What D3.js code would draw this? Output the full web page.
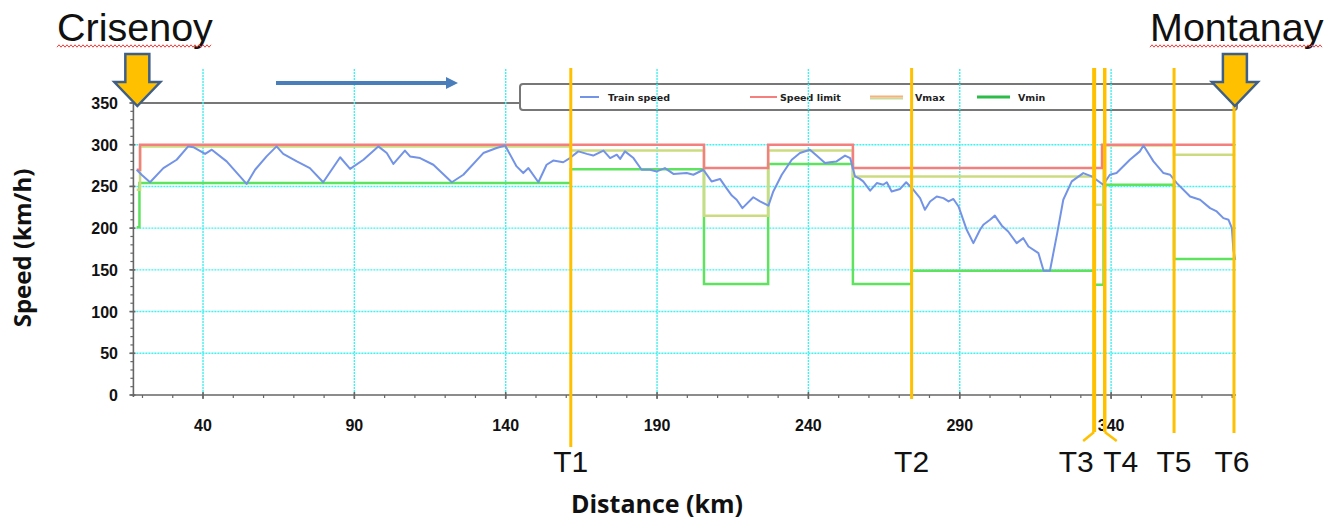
<!DOCTYPE html>
<html><head><meta charset="utf-8">
<script src="https://cdn.jsdelivr.net/npm/d3@7"></script>
<style>body{margin:0;background:#fff} svg{display:block}</style>
</head><body><svg id="c" width="1338" height="519"></svg>
<script>
const kmTicks=[40,90,140,190,240,290,340];
const kmMinor=d3.range(20,381,10);
const speedTicks=[0,50,100,150,200,250,300,350];
const speedMinor=d3.range(0,351,10);
const trainKm=[18.1,19.7,22.5,26.9,31.3,35.1,36.8,40.7,42.9,47.8,54.4,57.2,61.0,64.3,66.5,71.0,75.3,79.7,85.3,88.6,93.0,97.9,100.7,102.9,106.7,108.4,111.7,116.1,122.2,126.0,132.6,137.0,139.8,143.6,145.8,147.5,150.8,153.5,155.7,159.0,161.2,164.0,166.8,168.9,172.3,174.5,176.7,177.8,179.4,182.2,184.9,187.7,189.9,192.6,195.4,199.8,202.0,205.3,208.0,210.8,212.5,214.7,216.3,218.2,221.8,224.0,226.8,228.4,231.2,234.5,237.2,240.5,242.7,245.5,247.1,249.3,252.1,253.8,255.4,257.0,258.1,260.4,262.6,264.7,265.9,267.5,270.3,272.3,274.7,276.9,278.5,280.2,282.4,284.6,286.3,287.9,289.6,292.3,294.5,296.7,297.8,300.0,301.6,303.9,306.0,308.8,311.0,312.7,316.0,317.7,319.8,322.2,324.2,327.0,330.8,333.6,337.4,339.6,341.8,346.2,349.5,350.7,354.0,357.3,359.5,361.7,366.1,369.4,372.7,374.9,377.1,378.8,379.9,380.4,381.0];
const trainSpeed=[270,264,255,272,282,298,297,289,294,280,253,270,286,298,289,280,272,255,285,271,282,298,290,277,293,286,284,276,255,264,290,296,299,274,266,272,255,276,281,279,284,292,289,287,293,284,288,283,292,284,270,270,268,272,265,266,264,270,256,259,250,239,234,224,237,232,227,244,264,282,290,294,287,278,279,280,287,284,262,259,256,245,254,252,255,244,247,255,246,236,222,232,238,236,232,235,226,198,182,198,204,210,215,203,196,182,188,178,170,149,149,194,234,256,266,262,252,264,266,282,292,299,280,266,264,254,238,234,224,220,212,210,200,174,162];
const limitKm=[18.1,19.2,205.5,226.7,254.7,337.0,380.6];
const limitSpeed=[270,300,272,300,272,300,300];
const vmaxKm=[18.1,19.2,161.5,205.5,226.7,254.7,334.4,337.5,360.8,381];
const vmaxSpeed=[246,298,293,215,293,262,228,299,288,288];
const vminKm=[18.1,19.0,161.5,205.5,226.7,254.7,274.1,334.4,337.5,360.8,381];
const vminSpeed=[201,254,270.6,133,277,133,149,132,252,163,163];
const markerKm=[161.5,274.1,334.4,337.9,360.8,380.6];
const markerLabels=["T1","T2","T3","T4","T5","T6"];
const stations=["Crisenoy","Montanay"];
const stationKm=[18.3,380.9];
const legendLabels=["Train speed","Speed limit","Vmax","Vmin"];

const svg=d3.select("#c");
svg.append("rect").attr("width",1338).attr("height",519).attr("fill","#fff");
const x=d3.scaleLinear().domain([17,381]).range([133.4,1235.2]);
const y=d3.scaleLinear().domain([0,350]).range([395,103]);
const C={train:"#7393e6",limit:"#f47f7f",vmax:"#cddb80",vmin:"#5ee35e",grid:"#3df2f2",mark:"#ffc000",axis:"#666"};

// legend box (no fill, drawn under grid)
const lg=svg.append("g");
lg.append("line").attr("x1",x(17)).attr("x2",520).attr("y1",y(350)).attr("y2",y(350)).attr("stroke","#777").attr("stroke-width",2);
lg.append("rect").attr("x",520).attr("y",84).attr("width",717).attr("height",26).attr("rx",3).attr("fill","none").attr("stroke","#777").attr("stroke-width",2);

// grid
const g=svg.append("g");
g.selectAll(".vg").data(kmTicks).join("line").attr("x1",d=>x(d)).attr("x2",d=>x(d)).attr("y1",69).attr("y2",y(0))
 .attr("stroke",C.grid).attr("stroke-width",1.4).attr("stroke-dasharray","2,1");
g.selectAll(".hg").data(speedTicks.filter(d=>d>0&&d<350)).join("line").attr("x1",x(17)).attr("x2",1236).attr("y1",d=>y(d)).attr("y2",d=>y(d))
 .attr("stroke",C.grid).attr("stroke-width",1.4).attr("stroke-dasharray","2,1");

// legend entries
const lx=[580,750,870,977], tx=[608,780,915,1018], lw=[19,27,33,33];
const lcol=[C.train,C.limit,"#f5b27a","#2dbb4a"];
legendLabels.forEach((t,i)=>{
  if(i===2){
    lg.append("line").attr("x1",lx[i]).attr("x2",lx[i]+lw[i]).attr("y1",98.5).attr("y2",98.5).attr("stroke","#c9dca0").attr("stroke-width",2);
    lg.append("line").attr("x1",lx[i]).attr("x2",lx[i]+lw[i]).attr("y1",96.5).attr("y2",96.5).attr("stroke","#f5b27a").attr("stroke-width",2);
  } else {
    lg.append("line").attr("x1",lx[i]).attr("x2",lx[i]+lw[i]).attr("y1",97).attr("y2",97).attr("stroke",lcol[i]).attr("stroke-width",i===3?3:2);
  }
  lg.append("text").attr("x",tx[i]).attr("y",101).text(t).attr("font-family","DejaVu Sans").attr("font-weight","bold").attr("font-size",9.5).attr("fill","#222");
});

// step series
const stepLine=d3.line().x(d=>x(d[0])).y(d=>y(d[1])).curve(d3.curveStepAfter);
const zip=(a,b)=>a.map((v,i)=>[v,b[i]]);
svg.append("path").attr("d",stepLine(zip(vminKm,vminSpeed))).attr("fill","none").attr("stroke",C.vmin).attr("stroke-width",2.5);
svg.append("path").attr("d",stepLine(zip(vmaxKm,vmaxSpeed))).attr("fill","none").attr("stroke",C.vmax).attr("stroke-width",2.5);
svg.append("path").attr("d",stepLine(zip(limitKm,limitSpeed))).attr("fill","none").attr("stroke",C.limit).attr("stroke-width",2.5);
const line=d3.line().x(d=>x(d[0])).y(d=>y(d[1]));
svg.append("path").attr("d",line(zip(trainKm,trainSpeed))).attr("fill","none").attr("stroke",C.train).attr("stroke-width",2).attr("stroke-linejoin","round");

// axes
const ax=svg.append("g").attr("stroke",C.axis);
ax.append("line").attr("x1",x(17)).attr("x2",1236).attr("y1",y(0)).attr("y2",y(0)).attr("stroke-width",1.6);
ax.append("line").attr("x1",x(17)).attr("x2",x(17)).attr("y1",y(350)).attr("y2",y(0)+2).attr("stroke-width",1.6);
ax.selectAll(".xm").data(kmMinor).join("line").attr("x1",d=>x(d)).attr("x2",d=>x(d)).attr("y1",y(0)).attr("y2",y(0)+3).attr("stroke-width",1.2);
ax.selectAll(".xM").data(kmTicks).join("line").attr("x1",d=>x(d)).attr("x2",d=>x(d)).attr("y1",y(0)-3).attr("y2",y(0)+4).attr("stroke-width",1.6);
ax.selectAll(".ym").data(speedMinor).join("line").attr("x1",x(17)-3).attr("x2",x(17)).attr("y1",d=>y(d)).attr("y2",d=>y(d)).attr("stroke-width",1.2);
ax.selectAll(".yM").data(speedTicks).join("line").attr("x1",x(17)-4).attr("x2",x(17)+2).attr("y1",d=>y(d)).attr("y2",d=>y(d)).attr("stroke-width",1.6);
const tf={"font-family":"Liberation Sans","font-weight":"bold","font-size":16,"fill":"#111"};
const applyF=(s,f)=>{Object.entries(f).forEach(([k,v])=>s.attr(k,v));return s;};
applyF(svg.append("g").selectAll("text").data(kmTicks).join("text").attr("x",d=>x(d)).attr("y",431).attr("text-anchor","middle").text(d=>d),tf);
applyF(svg.append("g").selectAll("text").data(speedTicks).join("text").attr("x",118).attr("y",d=>y(d)+6).attr("text-anchor","end").text(d=>d),tf);
svg.append("text").attr("transform","translate(31,248) rotate(-90)").attr("text-anchor","middle").text("Speed (km/h)")
 .attr("font-family","Open Sans").attr("font-weight","bold").attr("font-size",24).attr("fill","#111");
svg.append("text").attr("x",657).attr("y",513).attr("text-anchor","middle").text("Distance (km)")
 .attr("font-family","Open Sans").attr("font-weight","bold").attr("font-size",25).attr("fill","#111");

// T markers
const mBottom=[447,399,432,432,433,433], mW=[3,3,4,3.5,3,3], lblDx=[0,0,-18,16,0,-2];
markerKm.forEach((k,i)=>{
  svg.append("line").attr("x1",x(k)).attr("x2",x(k)).attr("y1",68).attr("y2",mBottom[i]).attr("stroke",C.mark).attr("stroke-width",mW[i]);
  if(i===2) svg.append("line").attr("x1",x(k)).attr("y1",432).attr("x2",x(k)-11).attr("y2",441).attr("stroke",C.mark).attr("stroke-width",2.5);
  if(i===3) svg.append("line").attr("x1",x(k)).attr("y1",432).attr("x2",x(k)+12).attr("y2",441).attr("stroke",C.mark).attr("stroke-width",2.5);
  svg.append("text").attr("x",x(k)+lblDx[i]).attr("y",472).attr("text-anchor","middle").text(markerLabels[i])
   .attr("font-family","Liberation Sans").attr("font-size",30).attr("fill","#111");
});

// direction arrow
svg.append("defs").append("marker").attr("id","ah").attr("viewBox","0 0 10 10").attr("refX",5).attr("refY",5)
 .attr("markerWidth",3.5).attr("markerHeight",3).attr("orient","auto").append("path").attr("d","M0,0L10,5L0,10z").attr("fill","#4a7ebb");
svg.append("line").attr("x1",276).attr("x2",452).attr("y1",83).attr("y2",83).attr("stroke","#4a7ebb").attr("stroke-width",4).attr("marker-end","url(#ah)");

// stations: arrows + names + wavy underline
const nameX=[57,1150];
stations.forEach((s,i)=>{
  const cx=x(stationKm[i]);
  const sh=12, hw=23, top=54, neck=82, tip=106;
  svg.append("path").attr("d",`M${cx-sh},${top}L${cx+sh},${top}L${cx+sh},${neck}L${cx+hw},${neck}L${cx},${tip}L${cx-hw},${neck}L${cx-sh},${neck}Z`)
   .attr("fill","#ffc000").attr("stroke","#3f5f86").attr("stroke-width",2.5).attr("stroke-linejoin","miter");
  const t=svg.append("text").attr("x",nameX[i]).attr("y",41).text(s).attr("font-family","Liberation Sans").attr("font-size",39.5).attr("fill","#111");
  const w=t.node().getComputedTextLength();
  const pts=d3.range(0,Math.floor(w/2)+1).map(j=>[nameX[i]+j*2, 46+(j%2?-1.2:1.2)]);
  svg.append("path").attr("d",d3.line()(pts)).attr("fill","none").attr("stroke","#e84040").attr("stroke-width",1);
});
</script></body></html>
